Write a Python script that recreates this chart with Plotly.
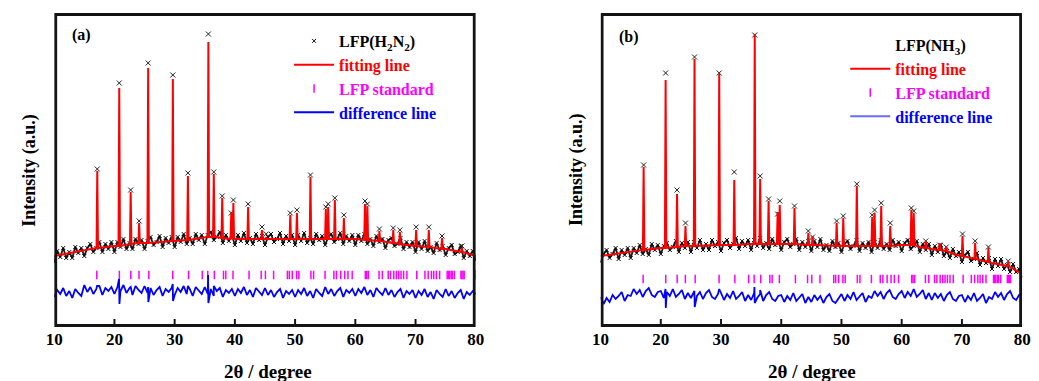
import numpy as np
import plotly.graph_objects as go

W, H = 1039, 381

# ---------------- data (intensity in arbitrary units) ----------------
X_RANGE = [10, 80]
Y_RANGE = [0, 314]
x_ticks = [10, 20, 30, 40, 50, 60, 70, 80]

# LFP reflections (peak positions, 2theta)
peak_pos = [17.15, 20.8, 22.7, 24.1, 25.6, 29.7, 32.2, 35.6, 36.5, 37.9,
            39.4, 39.75, 42.2, 44.5, 45.2, 49.2, 50.3, 52.55, 55.1, 55.5,
            56.6, 58.1, 61.6, 62.0, 64.0, 66.3, 67.4, 70.1, 72.2, 74.4, 77.7]

# panel (a): LFP(H2N2)
fit_top_a = [156, 239, 135, 104, 259, 248, 151, 285, 153, 129,
             114, 124, 120, 97, 90, 112, 114, 150, 118, 120,
             127, 109, 123, 121, 96, 97, 95, 97, 97, 89, 79]
fit_foot_a = [79, 81, 83, 84, 84, 86, 87, 90, 90, 89,
              88, 88, 88, 88, 88, 88, 88, 88, 88, 88,
              88, 88, 87, 87, 86, 84, 83, 81, 80, 78, 75]
obs_top_a = [158, 244, 137, 106, 264, 252, 154, 293, 155, 131,
             114, 127, 123, 100, 93, 114, 117, 152, 120, 123,
             129, 112, 126, 123, 98, 99, 97, 100, 100, 91, 81]
bg_x_a = [10, 15, 20, 25, 30, 35, 37, 40, 45, 50, 54, 60, 65, 69, 75, 80]
bg_a = [71, 77, 81, 84, 86, 89, 90, 88, 88, 88, 88, 88, 85, 82, 78, 71]
obs_a = [65, 76, 70, 79, 69, 75, 69, 80, 74, 79, 71, 79, 83, 75, 79, 85, 75, 83, 78, 85,
         75, 85, 80, 88, 78, 84, 78, 88, 83, 87, 78, 86, 90, 82, 85, 91, 80, 89, 84, 90,
         80, 90, 85, 93, 83, 89, 83, 93, 87, 92, 83, 92, 95, 87, 90, 95, 84, 92, 86, 92,
         82, 92, 86, 94, 84, 89, 83, 93, 87, 91, 82, 90, 93, 85, 88, 94, 83, 91, 86, 92,
         82, 92, 86, 94, 84, 89, 83, 93, 87, 91, 82, 90, 93, 85, 88, 94, 83, 91, 86, 92,
         82, 92, 86, 93, 83, 88, 81, 91, 85, 88, 79, 87, 89, 81, 83, 89, 78, 85, 80, 85,
         75, 85, 78, 86, 76, 80, 74, 84, 77, 81, 72, 79, 82, 73, 75, 81, 69, 76, 71, 76,
         67]
diff_a = [30, 37, 33, 39, 31, 36, 29, 38, 34, 31, 42, 35, 40, 33, 38, 41, 32, 39, 36, 40,
          33, 40, 36, 42, 34, 39, 32, 41, 37, 34, 41, 34, 39, 32, 37, 40, 31, 38, 35, 39,
          32, 39, 35, 41, 33, 38, 31, 40, 36, 33, 40, 33, 38, 31, 36, 39, 30, 37, 34, 38,
          31, 38, 34, 40, 32, 37, 30, 39, 35, 32, 39, 32, 37, 30, 35, 38, 29, 36, 33, 37,
          30, 37, 33, 39, 31, 36, 29, 38, 34, 31, 40, 33, 38, 31, 36, 39, 30, 37, 34, 38,
          31, 38, 34, 40, 32, 37, 30, 39, 35, 32, 39, 32, 37, 30, 35, 38, 29, 36, 33, 37,
          29, 36, 32, 38, 30, 35, 28, 37, 33, 30, 38, 31, 36, 29, 34, 37, 28, 35, 32, 36,
          33]
dspk_x_a = [17.12, 20.77, 20.83, 22.7, 25.58, 25.63, 29.68, 29.73, 32.2, 35.55, 35.6, 36.5]
dspk_a = [41, 48, 23, 40, 40, 25, 43, 26, 41, 52, 24, 41]

# panel (b): LFP(NH3)
fit_top_b = [160, 247, 133, 101, 268, 253, 147, 293, 148, 126,
             115, 122, 119, 94, 91, 104, 109, 141, 110, 114,
             121, 101, 117, 114, 86, 84, 80, 91, 84, 79, 65]
fit_foot_b = [77, 79, 80, 81, 81, 82, 82, 83, 83, 83,
              83, 83, 83, 82, 82, 81, 81, 81, 81, 81,
              81, 81, 82, 82, 79, 77, 76, 71, 68, 65, 61]
obs_top_b = [162, 254, 137, 104, 270, 254, 155, 292, 151, 128,
             113, 126, 121, 96, 90, 106, 111, 143, 112, 117,
             124, 104, 119, 116, 86, 82, 80, 93, 86, 80, 66]
bg_x_b = [10, 15, 20, 25, 30, 35, 40, 46, 50, 54, 60, 63, 65, 69, 75, 78, 80]
bg_b = [71, 75, 79, 81, 82, 83, 83, 82, 81, 81, 82, 80, 78, 72, 64, 60, 53]
obs_b = [65, 73, 77, 69, 73, 79, 68, 77, 72, 79, 69, 79, 74, 82, 73, 78, 72, 83, 77, 82,
         73, 81, 84, 77, 80, 86, 75, 84, 79, 85, 75, 85, 79, 87, 77, 83, 77, 87, 81, 85,
         76, 84, 87, 79, 83, 89, 78, 86, 81, 87, 77, 87, 81, 89, 79, 84, 78, 88, 82, 86,
         77, 85, 88, 80, 83, 88, 77, 85, 80, 86, 76, 86, 80, 88, 77, 82, 76, 86, 80, 84,
         75, 83, 86, 78, 81, 87, 76, 84, 79, 85, 75, 85, 79, 87, 78, 83, 77, 87, 81, 85,
         76, 84, 87, 78, 81, 86, 75, 83, 77, 83, 72, 81, 75, 82, 71, 76, 69, 78, 71, 75,
         65, 72, 75, 66, 68, 74, 62, 69, 64, 69, 58, 68, 61, 68, 58, 62, 55, 63, 55, 58,
         50]
diff_b = [30, 23, 29, 25, 32, 28, 31, 35, 26, 32, 31, 38, 33, 37, 30, 36, 39, 32, 30, 35,
          36, 29, 35, 31, 38, 30, 33, 37, 28, 34, 29, 36, 31, 35, 28, 34, 37, 30, 28, 33,
          34, 27, 33, 29, 36, 28, 31, 35, 26, 32, 27, 34, 29, 33, 26, 32, 35, 28, 26, 31,
          32, 25, 31, 27, 34, 26, 29, 33, 24, 30, 25, 32, 27, 31, 24, 30, 33, 26, 24, 29,
          33, 26, 32, 28, 35, 27, 30, 34, 25, 31, 29, 36, 31, 35, 28, 34, 37, 30, 28, 33,
          36, 29, 35, 31, 38, 30, 33, 37, 28, 34, 27, 34, 29, 33, 26, 32, 35, 28, 26, 31,
          32, 25, 31, 27, 34, 26, 29, 33, 24, 30, 28, 35, 30, 34, 27, 33, 36, 29, 27, 32,
          34]
dspk_x_b = [20.78, 20.83, 25.58, 25.63, 29.7, 35.55, 35.6, 36.5]
dspk_b = [38, 19, 36, 20, 38, 40, 24, 37]

# LFP standard reflection markers
std_pos = [17.07, 20.82, 22.72, 24.08, 25.71, 29.68, 32.30, 34.58, 35.50, 36.59,
           38.11, 38.49, 39.69, 42.35, 44.37, 45.07, 46.43, 48.72, 49.04, 49.53,
           50.24, 50.62, 52.63, 53.07, 54.97, 56.44, 56.87, 57.58, 58.23, 58.78,
           59.48, 61.66, 61.88, 62.15, 63.94, 64.49, 65.46, 65.84, 66.39, 66.82,
           67.20, 67.59, 68.02, 68.56, 70.20, 71.56, 72.10, 72.64, 73.02, 73.46,
           74.00, 75.25, 75.45, 75.63, 75.91, 76.10, 76.45, 77.54, 77.70, 77.90,
           78.08, 79.88]
std_level_a = 52
std_level_b = 48

# ---------------- helpers ----------------
HW = 0.12          # half width of a drawn reflection
TICK_LEN = 5       # px (1 y unit = 1 px)
PLOT_W_PX = 429    # plot width in px
FRAME_PX = 3       # frame thickness in px
INK = "#141414"


def fit_curve(bx, by, pos, top, foot):
    pts = list(zip(bx, by))
    for p, t, f in zip(pos, top, foot):
        pts += [(p - HW, f), (p, t), (p + HW, f)]
    pts.sort(key=lambda q: q[0])
    return [q[0] for q in pts], [q[1] for q in pts]


def diff_curve(vals, sx, sy):
    gx = np.linspace(X_RANGE[0], X_RANGE[1], len(vals))
    xx = np.concatenate([gx, np.array(sx)])
    yy = np.concatenate([np.array(vals, float), np.array(sy, float)])
    o = np.argsort(xx, kind="stable")
    return xx[o], yy[o]


def frame_polygons():
    """Filled frame ring plus inward tick rectangles, built from the axis ranges."""
    x0, x1 = X_RANGE
    y0, y1 = Y_RANGE
    dx = FRAME_PX * (x1 - x0) / PLOT_W_PX
    dy = FRAME_PX
    xs = [x0, x1, x1, x0, x0, x0 + dx, x0 + dx, x1 - dx, x1 - dx, x0 + dx, x0, None]
    ys = [y0, y0, y1, y1, y0, y0 + dy, y1 - dy, y1 - dy, y0 + dy, y0 + dy, y0, None]
    hw = (2 * (x1 - x0) / PLOT_W_PX) / 2
    for t in x_ticks[1:-1]:
        xs += [t - hw, t + hw, t + hw, t - hw, t - hw, None]
        ys += [y0, y0, y0 + TICK_LEN + dy, y0 + TICK_LEN + dy, y0, None]
    return xs, ys


def PX(p):
    return p / W


def PY(p):
    return 1 - p / H


FONT = "Liberation Serif"
fig = go.Figure()


def add_panel(ax, leg, label, obs, obs_top, bx, by, top, foot, dvals, sx, sy, std_y,
              diff_legend_color):
    xa, ya = ("x", "y") if ax == 1 else ("x2", "y2")
    gx = np.linspace(X_RANGE[0], X_RANGE[1], len(obs))
    if ax == 2:
        fig.add_trace(go.Scatter(x=[None], y=[None], mode="lines", name=label,
                                 line=dict(color="rgba(0,0,0,0)", width=0),
                                 xaxis=xa, yaxis=ya, legend=leg))
    fig.add_trace(go.Scatter(
        x=gx, y=obs, mode="markers", name=label, showlegend=(ax == 1),
        marker=dict(symbol="x-thin", size=4, color="#111",
                    line=dict(width=1, color="#111")),
        xaxis=xa, yaxis=ya, legend=leg))
    fig.add_trace(go.Scatter(
        x=gx, y=obs, mode="lines", showlegend=False, hoverinfo="skip",
        line=dict(color="rgba(0,0,0,0.9)", width=1.8),
        xaxis=xa, yaxis=ya))
    fig.add_trace(go.Scatter(
        x=peak_pos, y=obs_top, mode="markers", showlegend=False,
        marker=dict(symbol="x-thin", size=5, color="#222",
                    line=dict(width=1, color="#222")),
        xaxis=xa, yaxis=ya))
    fx, fy = fit_curve(bx, by, peak_pos, top, foot)
    fig.add_trace(go.Scatter(
        x=fx, y=fy, mode="lines", name="<span style='color:#ff0000'>fitting line</span>",
        line=dict(color="#ff0000", width=2), xaxis=xa, yaxis=ya, legend=leg))
    fig.add_trace(go.Scatter(
        x=std_pos, y=[std_y] * len(std_pos), mode="markers",
        name="<span style='color:#ff00ff'>LFP standard</span>",
        marker=dict(symbol="line-ns", size=6, color="#ff00ff",
                    line=dict(width=1.5, color="#ff00ff")),
        xaxis=xa, yaxis=ya, legend=leg))
    dx, dy = diff_curve(dvals, sx, sy)
    fig.add_trace(go.Scatter(
        x=dx, y=dy, mode="lines", showlegend=False,
        line=dict(color="#0000ff", width=1.8), xaxis=xa, yaxis=ya))
    fig.add_trace(go.Scatter(
        x=[None], y=[None], mode="lines",
        name="<span style='color:#0000ff'>difference line</span>",
        line=dict(color=diff_legend_color, width=2), xaxis=xa, yaxis=ya, legend=leg))
    # axes frame with inward ticks, drawn as filled polygons
    fxp, fyp = frame_polygons()
    fig.add_trace(go.Scatter(
        x=fxp, y=fyp, mode="lines", fill="toself", fillcolor=INK,
        line=dict(width=0, color=INK), showlegend=False, hoverinfo="skip",
        xaxis=xa, yaxis=ya))


add_panel(1, "legend", "LFP(H<sub>2</sub>N<sub>2</sub>)", obs_a, obs_top_a, bg_x_a, bg_a,
          fit_top_a, fit_foot_a, diff_a, dspk_x_a, dspk_a, std_level_a, "#0000ff")
add_panel(2, "legend2", "LFP(NH<sub>3</sub>)", obs_b, obs_top_b, bg_x_b, bg_b,
          fit_top_b, fit_foot_b, diff_b, dspk_x_b, dspk_b, std_level_b, "#6a6aff")

xdom_a = [PX(46), PX(475)]
xdom_b = [PX(602), PX(1031)]
ydom = [PY(327), PY(13)]

xcommon = dict(range=X_RANGE, tickvals=x_ticks, ticks="", showline=False,
               showgrid=False, zeroline=False,
               tickfont=dict(family=FONT, size=17, color="black", weight="bold"))
ycommon = dict(range=Y_RANGE, showticklabels=False, ticks="", showline=False,
               showgrid=False, zeroline=False)

legfont = dict(family=FONT, size=16, color="black", weight="bold")


def ann(text, x, y, size, angle=0):
    return dict(text=text, x=PX(x), y=PY(y), xref="paper", yref="paper",
                xanchor="center", yanchor="middle", textangle=angle, showarrow=False,
                font=dict(family=FONT, size=size, color="black", weight="bold"))


fig.update_layout(
    width=W, height=H, margin=dict(l=0, r=0, t=0, b=0, pad=0),
    paper_bgcolor="white", plot_bgcolor="white",
    xaxis=dict(domain=xdom_a, anchor="y", **xcommon),
    yaxis=dict(domain=ydom, anchor="x", **ycommon),
    xaxis2=dict(domain=xdom_b, anchor="y2", **xcommon),
    yaxis2=dict(domain=ydom, anchor="x2", **ycommon),
    legend=dict(x=PX(285), y=PY(24), xanchor="left", yanchor="top",
                bgcolor="rgba(0,0,0,0)", font=legfont, itemwidth=40,
                traceorder="normal", tracegroupgap=0),
    legend2=dict(x=PX(851), y=PY(28), xanchor="left", yanchor="top",
                 bgcolor="rgba(0,0,0,0)", font=legfont, itemwidth=40,
                 traceorder="normal", tracegroupgap=0),
    showlegend=True,
    annotations=[
        ann("(a)", 74, 35, 16),
        ann("(b)", 631, 37, 16),
        ann("Intensity (a.u.)", 20, 170, 18, -90),
        ann("Intensity (a.u.)", 577, 170, 18, -90),
        ann("2θ / degree", 264, 371, 19),
        ann("2θ / degree", 817, 371, 19),
    ],
)

fig.write_html("out.html", config={"staticPlot": True, "displayModeBar": False},
               post_script="document.body.style.margin='0px';")
